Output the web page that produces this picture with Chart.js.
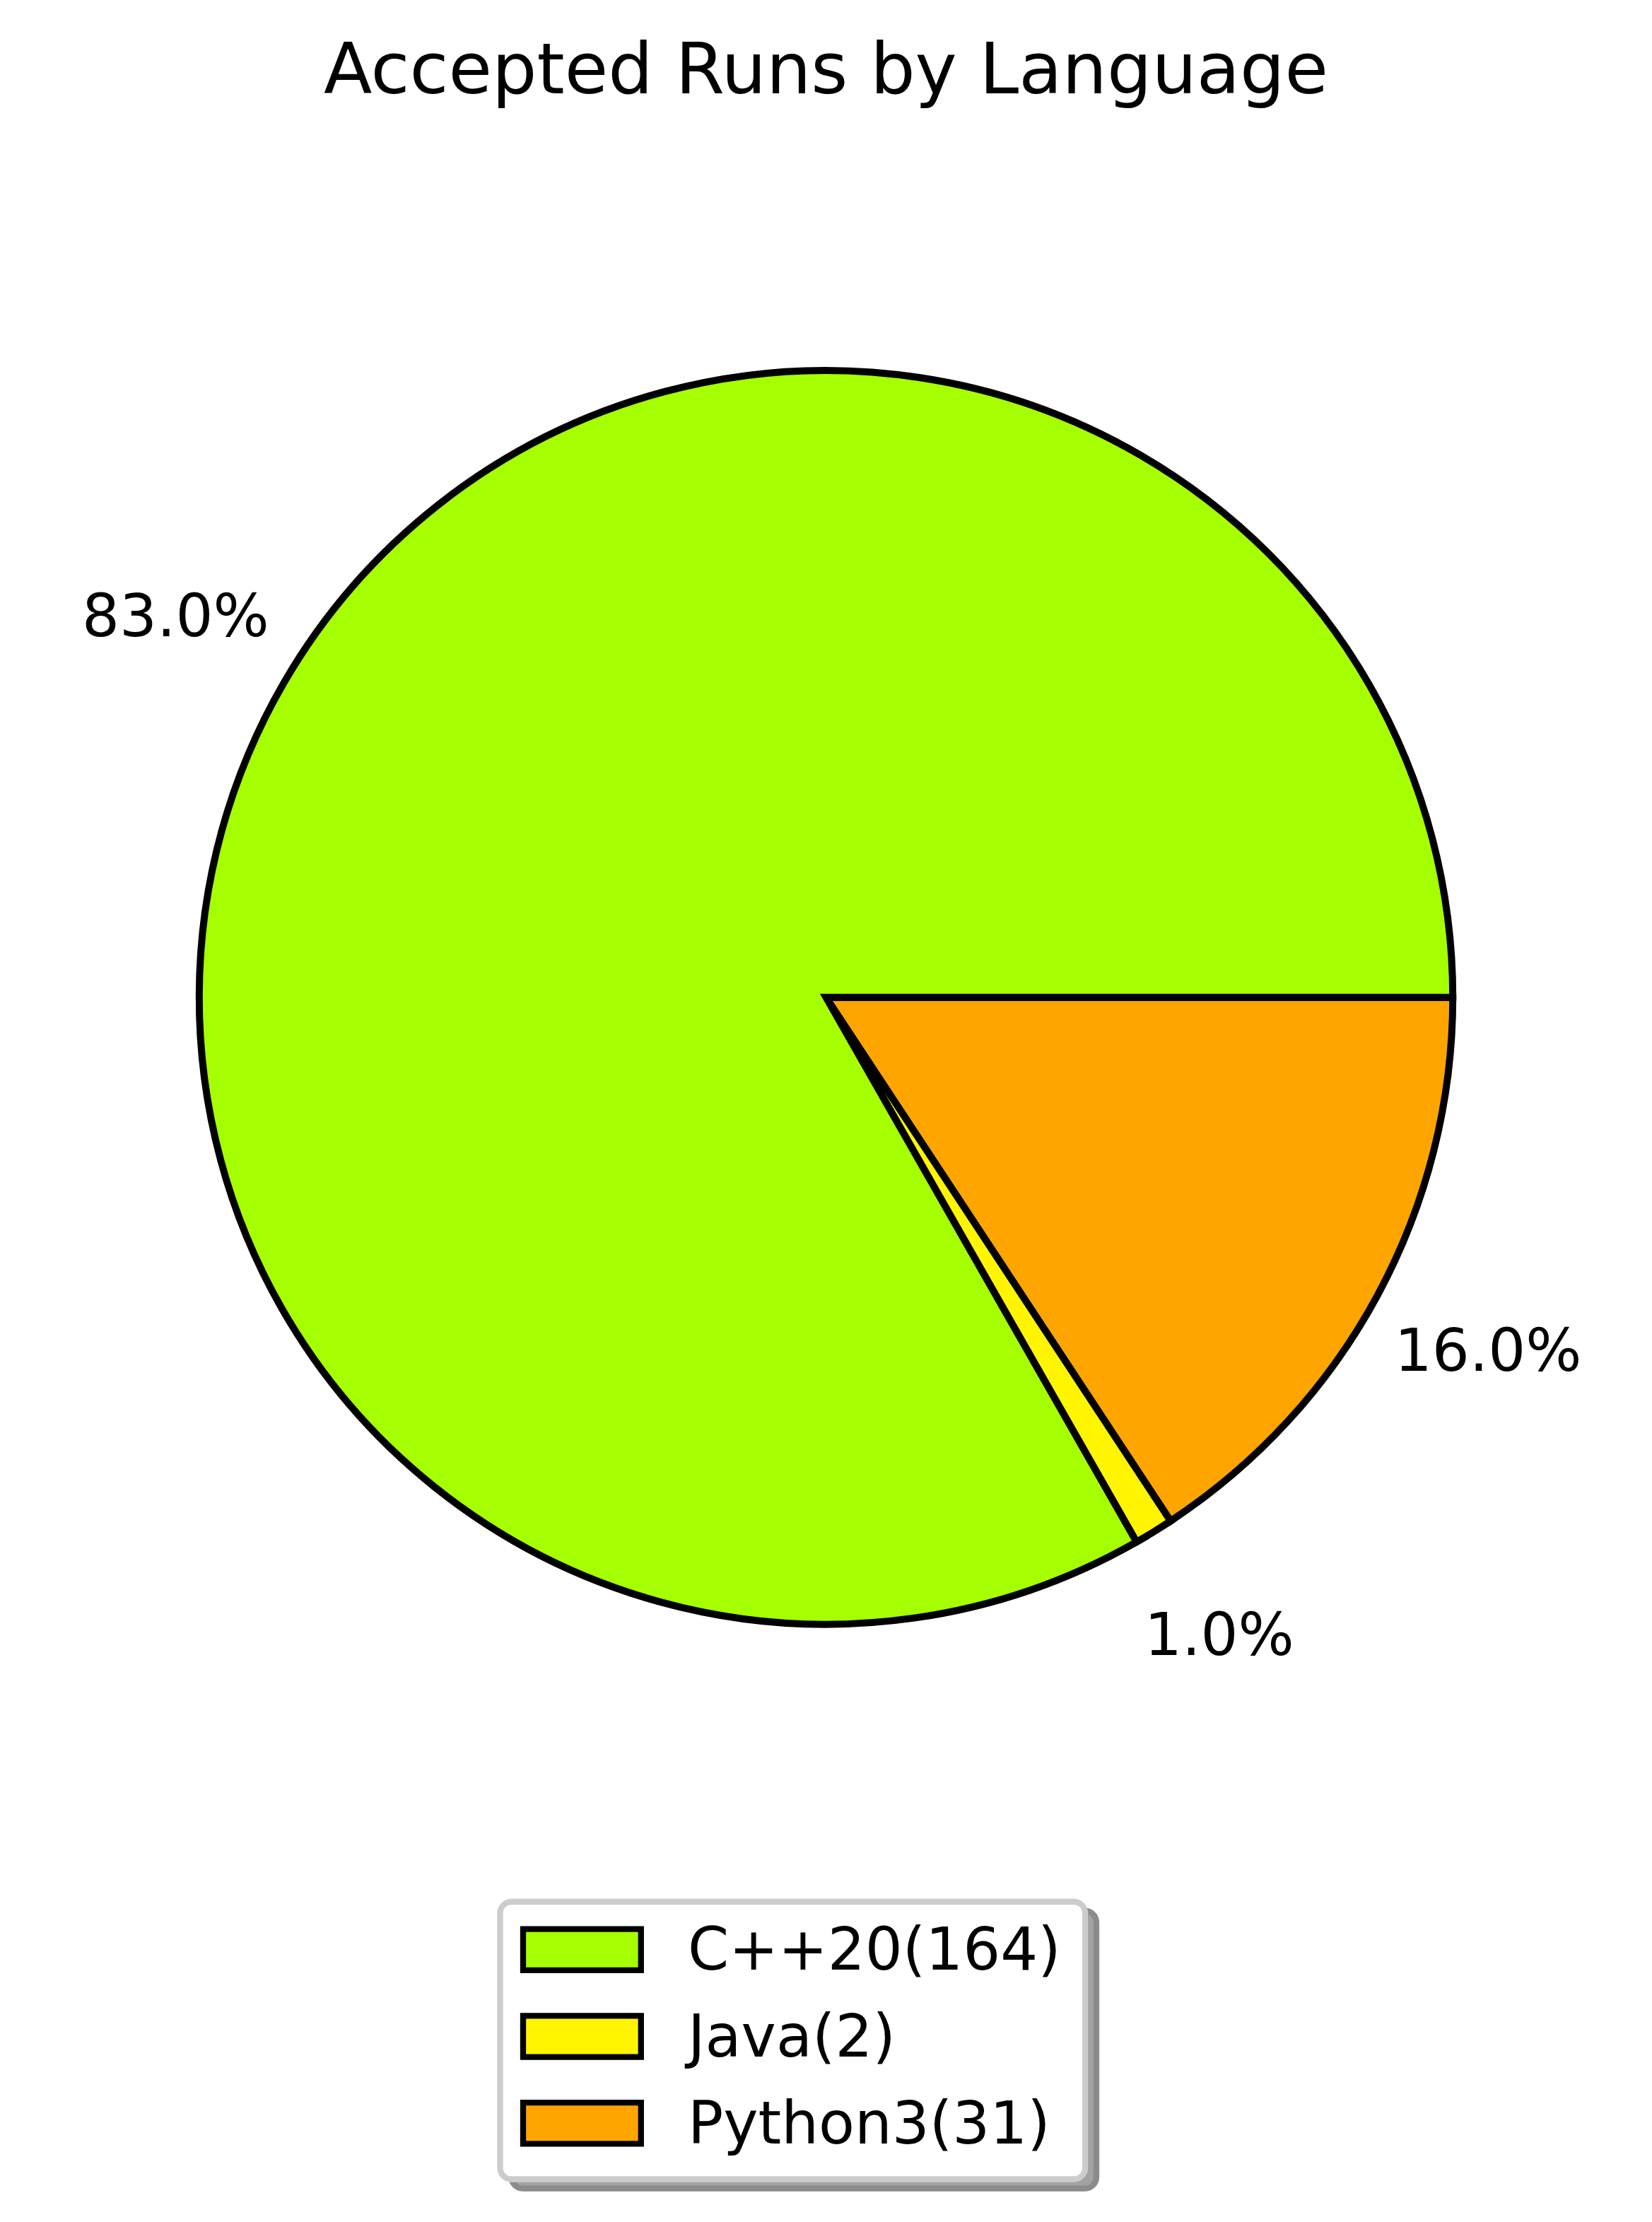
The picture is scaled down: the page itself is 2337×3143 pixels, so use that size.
<!DOCTYPE html>
<html>
<head>
<meta charset="utf-8">
<title>Accepted Runs by Language</title>
<script src="https://cdn.jsdelivr.net/npm/chart.js@4.4.1/dist/chart.umd.min.js"></script>
<style>
  html, body { margin: 0; padding: 0; background: #ffffff; }
  #wrap { width: 2337px; height: 3143px; }
</style>
</head>
<body>
<div id="wrap"><canvas id="chartLang" width="2337" height="3143"></canvas></div>
<script>
// --- Data ---
const languages = ['C++20', 'Java', 'Python3'];
const runCounts = [164, 2, 31];
const pctLabels = ['83.0%', '1.0%', '16.0%'];
const sliceColors = ['#a6ff00', '#fff500', '#ffa500'];

const FONT = "'DejaVu Sans', sans-serif";
const TEXT_PX = 83.3;

// matplotlib goes counter-clockwise from 3 o'clock, Chart.js goes clockwise,
// so feed the slices reversed and start at 90deg
const order = languages.map((_, i) => i).reverse();

// --- percentage text outside each slice ---
const pctLabelPlugin = {
  id: 'pctLabels',
  afterDatasetsDraw(chart) {
    const ctx = chart.ctx;
    const meta = chart.getDatasetMeta(0);
    ctx.save();
    ctx.font = `${TEXT_PX}px ${FONT}`;
    ctx.fillStyle = '#000';
    ctx.textAlign = 'center';
    ctx.textBaseline = 'middle';
    meta.data.forEach((arc, j) => {
      const p = arc.getProps(['x', 'y', 'startAngle', 'endAngle', 'outerRadius'], true);
      const mid = (p.startAngle + p.endAngle) / 2;
      const r = p.outerRadius * 1.2;
      ctx.fillText(pctLabels[order[j]], p.x + Math.cos(mid) * r, p.y + Math.sin(mid) * r + 2);
    });
    ctx.restore();
  }
};

// --- matplotlib style legend box with shadow ---
const legendBoxPlugin = {
  id: 'legendBox',
  afterDraw(chart) {
    const ctx = chart.ctx;
    const box = { x: 707.5, y: 2690, w: 827.5, h: 392.5, r: 16 };
    const rowY = [2757.7, 2880.5, 3003.3];

    ctx.save();
    ctx.lineWidth = 8.3;

    // shadow
    ctx.beginPath();
    ctx.roundRect(box.x + 16, box.y + 13, box.w, box.h, box.r);
    ctx.fillStyle = '#a3a3a3';
    ctx.fill();
    ctx.strokeStyle = '#8c8c8c';
    ctx.stroke();

    // frame
    ctx.beginPath();
    ctx.roundRect(box.x, box.y, box.w, box.h, box.r);
    ctx.fillStyle = '#ffffff';
    ctx.fill();
    ctx.strokeStyle = '#cccccc';
    ctx.stroke();

    ctx.font = `${TEXT_PX}px ${FONT}`;
    ctx.textAlign = 'left';
    ctx.textBaseline = 'alphabetic';
    ctx.lineJoin = 'miter';
    languages.forEach((lang, i) => {
      const cy = rowY[i];
      ctx.beginPath();
      ctx.rect(740, cy - 29.15, 166.8, 58.3);
      ctx.fillStyle = sliceColors[i];
      ctx.fill();
      ctx.strokeStyle = '#000';
      ctx.stroke();
      ctx.fillStyle = '#000';
      ctx.fillText(`${lang}(${runCounts[i]})`, 973, cy + 28.4);
    });
    ctx.restore();
  }
};

const ctxPie = document.getElementById('chartLang').getContext('2d');
new Chart(ctxPie, {
  type: 'pie',
  data: {
    labels: order.map(i => languages[i]),
    datasets: [{
      data: order.map(i => runCounts[i]),
      backgroundColor: order.map(i => sliceColors[i]),
      borderColor: '#000000',
      borderWidth: 10,
      borderJoinStyle: 'miter'
    }]
  },
  options: {
    responsive: false,
    devicePixelRatio: 1,
    animation: false,
    rotation: 90,
    radius: 886.7,
    layout: { padding: { left: 0, right: 0, top: 0, bottom: 501.4 } },
    plugins: {
      legend: { display: false },
      tooltip: { enabled: false },
      title: {
        display: true,
        text: 'Accepted Runs by Language',
        color: '#000000',
        font: { family: FONT, size: 100, weight: 'normal' },
        padding: { top: 46, bottom: 14 }
      }
    }
  },
  plugins: [pctLabelPlugin, legendBoxPlugin]
});
</script>
</body>
</html>
